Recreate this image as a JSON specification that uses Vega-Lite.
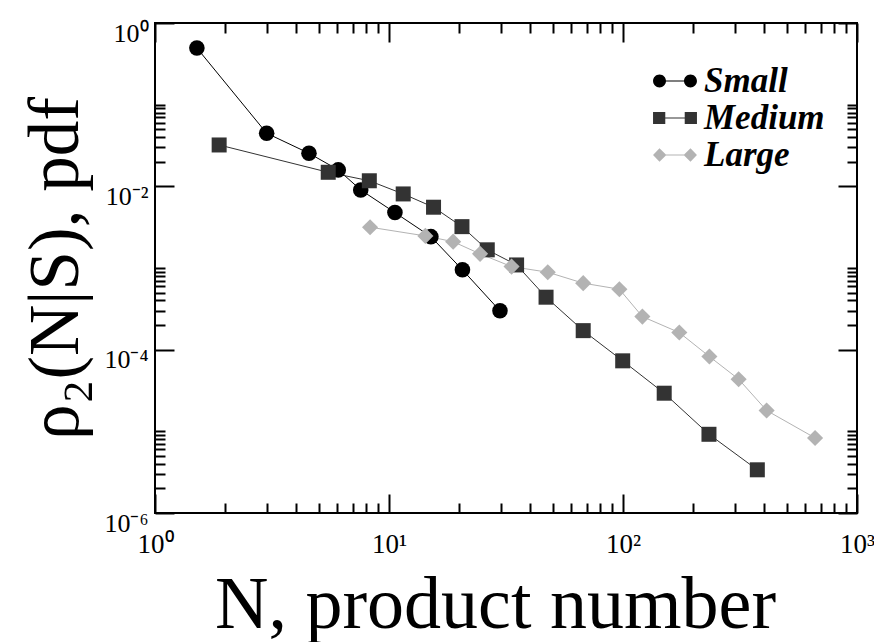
{
  "$schema": "https://vega.github.io/schema/vega-lite/v6.json",
  "width": 702,
  "height": 490,
  "autosize": "none",
  "padding": {"left": 155, "top": 23, "right": 17, "bottom": 129},
  "background": "white",
  "config": {"view": {"stroke": "black", "strokeWidth": 2}},
  "data": {"values": [
    {"series": "Small", "N": 1.51, "p": 0.494},
    {"series": "Small", "N": 3.0, "p": 0.0447},
    {"series": "Small", "N": 4.55, "p": 0.0254},
    {"series": "Small", "N": 6.07, "p": 0.0159},
    {"series": "Small", "N": 7.57, "p": 0.00904},
    {"series": "Small", "N": 10.6, "p": 0.00477},
    {"series": "Small", "N": 15.1, "p": 0.00242},
    {"series": "Small", "N": 20.6, "p": 0.00095},
    {"series": "Small", "N": 29.8, "p": 0.000299},
    {"series": "Medium", "N": 1.88, "p": 0.0321},
    {"series": "Medium", "N": 5.5, "p": 0.01486},
    {"series": "Medium", "N": 8.24, "p": 0.0117},
    {"series": "Medium", "N": 11.5, "p": 0.00807},
    {"series": "Medium", "N": 15.5, "p": 0.00555},
    {"series": "Medium", "N": 20.5, "p": 0.00321},
    {"series": "Medium", "N": 26.3, "p": 0.00167},
    {"series": "Medium", "N": 35.1, "p": 0.00109},
    {"series": "Medium", "N": 46.9, "p": 0.000439},
    {"series": "Medium", "N": 67.6, "p": 0.000171},
    {"series": "Medium", "N": 99.7, "p": 0.000073},
    {"series": "Medium", "N": 150, "p": 0.0000293},
    {"series": "Medium", "N": 233, "p": 0.0000092},
    {"series": "Medium", "N": 375, "p": 0.00000338},
    {"series": "Large", "N": 8.3, "p": 0.00316},
    {"series": "Large", "N": 14.3, "p": 0.00247},
    {"series": "Large", "N": 18.8, "p": 0.0021},
    {"series": "Large", "N": 24.5, "p": 0.00149},
    {"series": "Large", "N": 33.4, "p": 0.00104},
    {"series": "Large", "N": 47.7, "p": 0.000888},
    {"series": "Large", "N": 67.6, "p": 0.000652},
    {"series": "Large", "N": 96.5, "p": 0.00055},
    {"series": "Large", "N": 121, "p": 0.000254},
    {"series": "Large", "N": 174, "p": 0.000162},
    {"series": "Large", "N": 234, "p": 0.0000824},
    {"series": "Large", "N": 312, "p": 0.0000435},
    {"series": "Large", "N": 411, "p": 0.000018},
    {"series": "Large", "N": 662, "p": 0.0000083}
  ]},
  "resolve": {"axis": {"x": "independent", "y": "independent"}},
  "layer": [
    {
      "mark": {"type": "line", "strokeWidth": 1, "clip": true},
      "encoding": {
        "x": {"field": "N", "type": "quantitative",
          "scale": {"type": "log", "domain": [1, 1000], "nice": false},
          "axis": {"orient": "bottom", "values": [1, 10, 100, 1000], "grid": false, "domain": false,
            "tickSize": -19, "tickWidth": 2, "tickColor": "black",
            "labelPadding": 58, "labelBaseline": "alphabetic", "labelFlush": false, "labelOverlap": false, "labelBound": false,
            "labelFont": "Liberation Serif", "labelFontSize": 27, "labelColor": "black",
            "labelExpr": "'10' + (round(log(datum.value)/LN10) == 0 ? '⁰' : round(log(datum.value)/LN10) == 1 ? '¹' : round(log(datum.value)/LN10) == 2 ? '²' : '³')",
            "title": "N, product number", "titleFont": "Liberation Serif", "titleFontSize": 74, "titleFontWeight": "normal", "titleColor": "black",
            "titleX": 340, "titleY": 114, "titleBaseline": "alphabetic", "titleAlign": "center"}},
        "y": {"field": "p", "type": "quantitative",
          "scale": {"type": "log", "domain": [0.000001, 1], "nice": false},
          "axis": {"orient": "left", "values": [1, 0.01, 0.0001, 0.000001], "grid": false, "domain": false,
            "tickSize": -19, "tickWidth": 2, "tickColor": "black",
            "labelPadding": 26, "labelOffset": 10, "labelOverlap": false, "labelBound": false, "labelFlush": false,
            "labelFont": "Liberation Serif", "labelFontSize": 26, "labelColor": "black",
            "labelExpr": "'10' + (round(log(datum.value)/LN10) == 0 ? '⁰' : round(log(datum.value)/LN10) == -2 ? '⁻²' : round(log(datum.value)/LN10) == -4 ? '⁻⁴' : '⁻⁶')",
            "title": "ρ₂(N|S), pdf", "titleFont": "Liberation Serif", "titleFontSize": 71, "titleFontWeight": "normal", "titleColor": "black",
            "titleX": -78, "titleY": 245, "titleAngle": 270, "titleBaseline": "alphabetic", "titleAlign": "center"}},
        "stroke": {"field": "series", "type": "nominal",
          "scale": {"domain": ["Large", "Medium", "Small"], "range": ["#b3b3b3", "#333333", "#000000"]},
          "legend": null},
        "detail": {"field": "series"}
      }
    },
    {
      "mark": {"type": "point", "filled": true, "opacity": 1},
      "encoding": {
        "x": {"field": "N", "type": "quantitative",
          "scale": {"type": "log", "domain": [1, 1000], "nice": false},
          "axis": {"orient": "bottom", "values": [2,3,4,5,6,7,8,9,20,30,40,50,60,70,80,90,200,300,400,500,600,700,800,900],
            "grid": false, "domain": false, "labels": false, "title": null,
            "tickSize": -10, "tickWidth": 2, "tickColor": "black"}},
        "y": {"field": "p", "type": "quantitative",
          "scale": {"type": "log", "domain": [0.000001, 1], "nice": false},
          "axis": {"orient": "left", "values": [0.02,0.03,0.04,0.05,0.06,0.07,0.08,0.09,0.1,0.0002,0.0003,0.0004,0.0005,0.0006,0.0007,0.0008,0.0009,0.001,0.000002,0.000003,0.000004,0.000005,0.000006,0.000007,0.000008,0.000009,0.00001],
            "grid": false, "domain": false, "labels": false, "title": null,
            "tickSize": -10, "tickWidth": 2, "tickColor": "black"}},
        "color": {"field": "series", "type": "nominal",
          "scale": {"domain": ["Small", "Medium", "Large"], "range": ["#000000", "#333333", "#b3b3b3"]},
          "legend": {"orient": "none", "legendX": 502, "legendY": 40, "padding": 0, "title": null,
            "labelFont": "Liberation Serif", "labelFontStyle": "italic", "labelFontWeight": "bold", "labelFontSize": 35, "labelColor": "black",
            "symbolSize": 1296, "labelOffset": 11, "rowPadding": 1, "symbolStrokeWidth": 0,
            "encoding": {"symbols": {"shape": {
              "condition": [
                {"test": "datum.value === 'Small'", "value": "M-1.22,0A0.36,0.36,0,1,1,-0.5,0A0.36,0.36,0,1,1,-1.22,0Z M0.5,0A0.36,0.36,0,1,1,1.22,0A0.36,0.36,0,1,1,0.5,0Z M-0.6,-0.03L0.6,-0.03L0.6,0.03L-0.6,0.03Z"},
                {"test": "datum.value === 'Medium'", "value": "M-1.22,-0.34L-0.54,-0.34L-0.54,0.34L-1.22,0.34Z M0.54,-0.34L1.22,-0.34L1.22,0.34L0.54,0.34Z M-0.6,-0.03L0.6,-0.03L0.6,0.03L-0.6,0.03Z"}
              ],
              "value": "M-1.22,0L-0.86,-0.38L-0.48,0L-0.86,0.38Z M0.48,0L0.86,-0.38L1.22,0L0.86,0.38Z M-0.6,-0.03L0.6,-0.03L0.6,0.03L-0.6,0.03Z"}}}}},
        "shape": {"field": "series", "type": "nominal",
          "scale": {"domain": ["Medium", "Small", "Large"], "range": ["square", "circle", "diamond"]},
          "legend": null},
        "size": {"field": "series", "type": "nominal",
          "scale": {"domain": ["Large", "Small", "Medium"], "range": [260, 225, 178]},
          "legend": null}
      }
    },
    {
      "mark": {"type": "point", "opacity": 0},
      "encoding": {
        "x": {"field": "N", "type": "quantitative",
          "scale": {"type": "log", "domain": [1, 1000], "nice": false},
          "axis": {"orient": "top", "values": [1, 10, 100, 1000], "grid": false, "domain": false, "labels": false, "title": null,
            "tickSize": -19, "tickWidth": 2, "tickColor": "black"}},
        "y": {"field": "p", "type": "quantitative",
          "scale": {"type": "log", "domain": [0.000001, 1], "nice": false},
          "axis": {"orient": "right", "values": [1, 0.01, 0.0001, 0.000001], "grid": false, "domain": false, "labels": false, "title": null,
            "tickSize": -19, "tickWidth": 2, "tickColor": "black"}}
      }
    },
    {
      "mark": {"type": "point", "opacity": 0},
      "encoding": {
        "x": {"field": "N", "type": "quantitative",
          "scale": {"type": "log", "domain": [1, 1000], "nice": false},
          "axis": {"orient": "top", "values": [2,3,4,5,6,7,8,9,20,30,40,50,60,70,80,90,200,300,400,500,600,700,800,900],
            "grid": false, "domain": false, "labels": false, "title": null,
            "tickSize": -10, "tickWidth": 2, "tickColor": "black"}},
        "y": {"field": "p", "type": "quantitative",
          "scale": {"type": "log", "domain": [0.000001, 1], "nice": false},
          "axis": {"orient": "right", "values": [0.02,0.03,0.04,0.05,0.06,0.07,0.08,0.09,0.1,0.0002,0.0003,0.0004,0.0005,0.0006,0.0007,0.0008,0.0009,0.001,0.000002,0.000003,0.000004,0.000005,0.000006,0.000007,0.000008,0.000009,0.00001],
            "grid": false, "domain": false, "labels": false, "title": null,
            "tickSize": -10, "tickWidth": 2, "tickColor": "black"}}
      }
    }
  ]
}
